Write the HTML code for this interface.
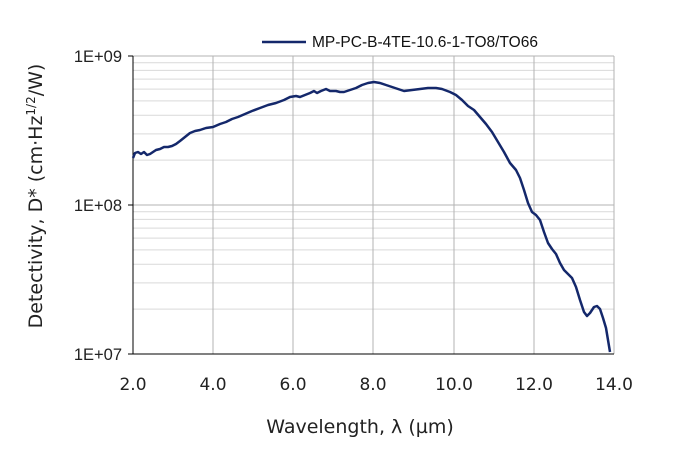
<!DOCTYPE html>
<html><head><style>body{margin:0;background:#fff}svg{display:block}</style></head><body>
<svg width="676" height="449" xmlns="http://www.w3.org/2000/svg" font-family="DejaVu Sans, Liberation Sans, sans-serif">
<rect width="676" height="449" fill="#fff"/>
<g stroke="#d9d9d9" stroke-width="1">
<line x1="133" x2="614" y1="309.1" y2="309.1"/><line x1="133" x2="614" y1="282.9" y2="282.9"/><line x1="133" x2="614" y1="264.3" y2="264.3"/><line x1="133" x2="614" y1="249.9" y2="249.9"/><line x1="133" x2="614" y1="238.1" y2="238.1"/><line x1="133" x2="614" y1="228.1" y2="228.1"/><line x1="133" x2="614" y1="219.4" y2="219.4"/><line x1="133" x2="614" y1="211.8" y2="211.8"/>
<line x1="133" x2="614" y1="160.1" y2="160.1"/><line x1="133" x2="614" y1="133.9" y2="133.9"/><line x1="133" x2="614" y1="115.3" y2="115.3"/><line x1="133" x2="614" y1="100.9" y2="100.9"/><line x1="133" x2="614" y1="89.1" y2="89.1"/><line x1="133" x2="614" y1="79.1" y2="79.1"/><line x1="133" x2="614" y1="70.4" y2="70.4"/><line x1="133" x2="614" y1="62.8" y2="62.8"/>
</g>
<g stroke="#b3b3b3" stroke-width="1">
<line x1="133" x2="614" y1="56" y2="56"/><line x1="133" x2="614" y1="205" y2="205"/>
<line x1="213" x2="213" y1="56" y2="354"/><line x1="293" x2="293" y1="56" y2="354"/><line x1="373" x2="373" y1="56" y2="354"/><line x1="454" x2="454" y1="56" y2="354"/><line x1="534" x2="534" y1="56" y2="354"/><line x1="614" x2="614" y1="56" y2="354"/>
</g>
<g stroke="#000" stroke-width="1">
<line x1="133" x2="133" y1="56" y2="354"/><line x1="133" x2="614" y1="354" y2="354"/>
<line x1="128" x2="133" y1="56" y2="56"/><line x1="128" x2="133" y1="205" y2="205"/><line x1="128" x2="133" y1="354" y2="354"/>
</g>
<path fill="none" stroke="#14286b" stroke-width="2.5" stroke-linejoin="round" d="M133,158 L135,153 L138,152 L141,154 L144,152 L147,155 L150,154 L153,152 L156,150 L160,149 L164,147 L168,147 L172,146 L176,144 L180,141 L185,137 L190,133 L195,131 L200,130 L206,128 L213,127 L220,124 L226,122 L232,119 L238,117 L245,114 L252,111 L260,108 L268,105 L276,103 L284,100 L290,97 L296,96 L300,97 L305,95 L310,93 L314,91 L317,93 L321,91 L326,89 L330,91 L336,91 L340,92 L344,92 L350,90 L356,88 L362,85 L368,83 L374,82 L380,83 L386,85 L392,87 L398,89 L404,91 L412,90 L420,89 L428,88 L436,88 L442,89 L450,92 L456,95 L462,100 L468,106 L474,110 L480,117 L486,124 L492,132 L498,142 L504,152 L510,163 L516,170 L520,178 L524,190 L528,203 L532,212 L536,215 L540,220 L544,232 L548,243 L552,249 L556,254 L560,263 L564,270 L568,274 L572,278 L576,287 L580,300 L584,312 L587,316 L590,313 L594,307 L597,306 L600,309 L603,318 L606,328 L608,340 L610,352"/>
<line x1="262" x2="306" y1="42" y2="42" stroke="#14286b" stroke-width="2.5"/>
<text x="312" y="47" font-size="15.5" font-family="Liberation Sans, sans-serif" fill="#111">MP-PC-B-4TE-10.6-1-TO8/TO66</text>
<g font-size="16.5" fill="#222" text-anchor="end" font-family="Liberation Sans, sans-serif">
<text x="122" y="62">1E+09</text><text x="122" y="211">1E+08</text><text x="122" y="360">1E+07</text>
</g>
<g font-size="17" fill="#222" text-anchor="middle">
<text x="133" y="390">2.0</text><text x="213" y="390">4.0</text><text x="293" y="390">6.0</text><text x="373" y="390">8.0</text><text x="454" y="390">10.0</text><text x="534" y="390">12.0</text><text x="614" y="390">14.0</text>
<text x="360" y="433" font-size="19">Wavelength, λ (µm)</text>
</g>
<text transform="translate(42,196) rotate(-90)" text-anchor="middle" font-size="19" fill="#222">Detectivity, D* (cm·Hz<tspan dy="-7" font-size="12">1/2</tspan><tspan dy="7">/W)</tspan></text>
</svg>
</body></html>
